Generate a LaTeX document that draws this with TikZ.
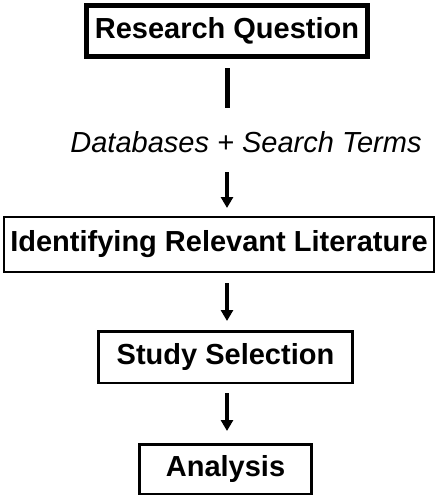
\documentclass[tikz,border=0pt]{standalone}
\usepackage{fontspec}
\setmainfont{Liberation Sans}
\usetikzlibrary{arrows.meta}
\begin{document}
\begin{tikzpicture}[x=1pt,y=-1pt,
  boxtxt/.style={font=\fontsize{29}{31}\selectfont\bfseries, draw=black, inner sep=0pt, align=center},
  flowarrow/.style={line width=4pt, -{Triangle[width=12pt,length=11pt]}},
]
\useasboundingbox (0,0) rectangle (436,496);
\node[boxtxt, line width=5pt, minimum width=281pt, minimum height=51pt] (rq) at (227,31) {Research Question};
\node[boxtxt, line width=2pt, minimum width=430pt, minimum height=55pt] (irl) at (219,244.5) {Identifying Relevant Literature};
\node[boxtxt, line width=2.5pt, minimum width=254pt, minimum height=51.5pt] (ss) at (225.5,357) {Study Selection};
\node[boxtxt, line width=2.5pt, minimum width=172pt, minimum height=49.5pt] (an) at (225.5,469) {Analysis};
\node[font=\fontsize{29}{31}\selectfont\itshape, inner sep=0pt, anchor=base] (dst) at (246,152) {Databases + Search Terms};
\coordinate (l1a) at (227,68);
\coordinate (l1b) at (227,108);
\coordinate (a2a) at (227,172);
\coordinate (a2b) at (227,208);
\coordinate (a3a) at (227,283);
\coordinate (a3b) at (227,321);
\coordinate (a4a) at (227,393);
\coordinate (a4b) at (227,431);
\draw[line width=5pt] (l1a) -- (l1b);
\draw[flowarrow] (a2a) -- (a2b);
\draw[flowarrow] (a3a) -- (a3b);
\draw[flowarrow] (a4a) -- (a4b);
\end{tikzpicture}
\end{document}
